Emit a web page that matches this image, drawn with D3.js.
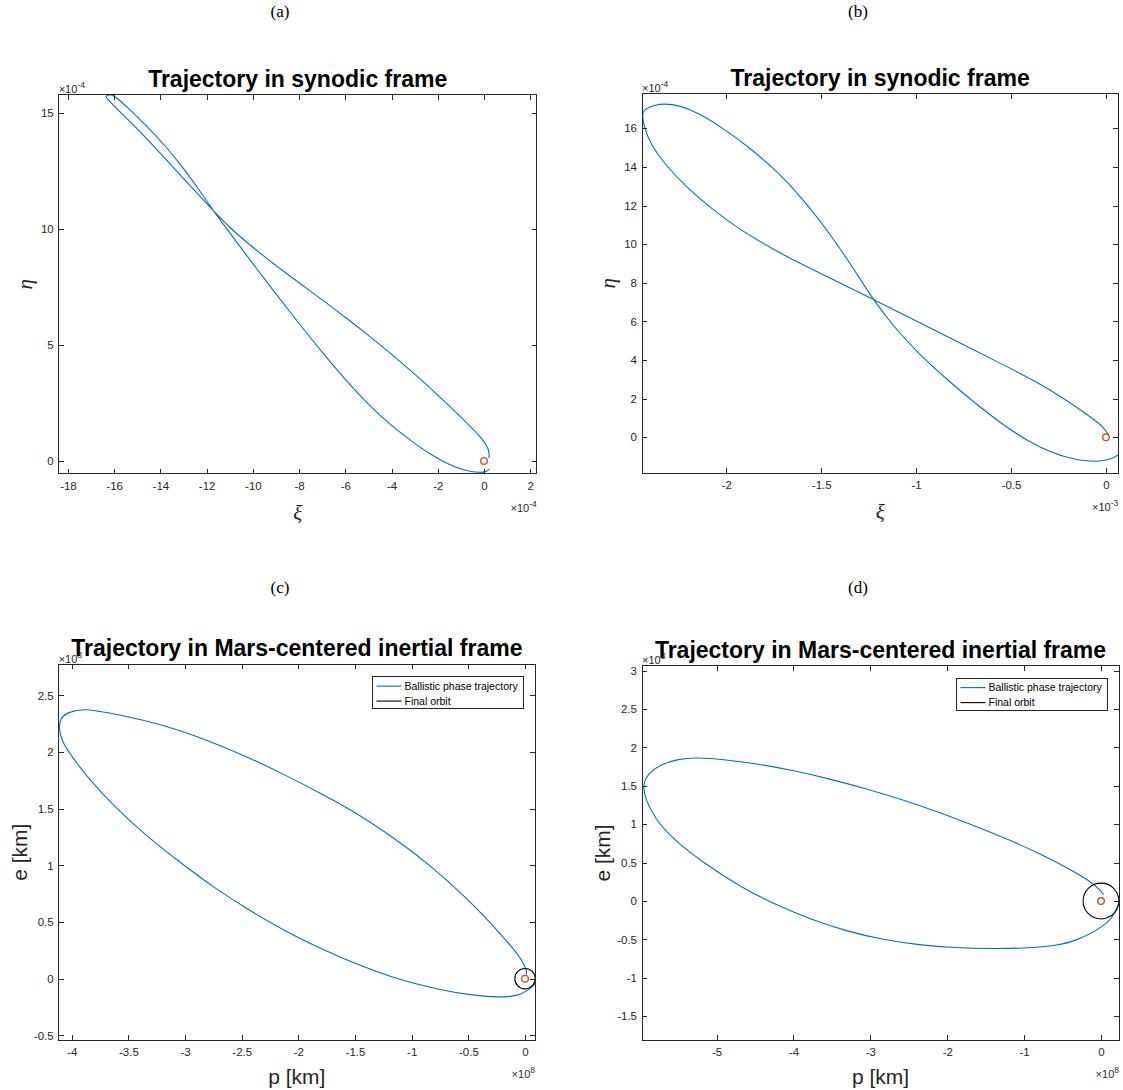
<!DOCTYPE html>
<html>
<head>
<meta charset="utf-8">
<script src="https://cdnjs.cloudflare.com/ajax/libs/d3/7.8.5/d3.min.js"></script>
<style>
  body { margin: 0; background: #ffffff; }
  svg { display: block; }
</style>
</head>
<body>
<svg id="fig" width="1123" height="1090"></svg>
<script>
// ---------------- DATA ----------------
const panelLabels = ["(a)", "(b)", "(c)", "(d)"];
const titleSynodic = "Trajectory in synodic frame";
const titleInertial = "Trajectory in Mars-centered inertial frame";
const legendLabels = ["Ballistic phase trajectory", "Final orbit"];

// (a) synodic frame, units 1e-4
const aXi  = [0.22, 0.23, 0.18, 0.0, -0.4, -1.0, -2.0, -3.0, -4.0, -5.0, -6.0, -7.0, -8.0, -9.0, -10.0, -11.0, -11.71, -12.59, -13.52, -14.45, -15.22, -15.84, -16.22, -16.38, -16.3, -16.15, -15.95, -15.4, -14.6, -13.8, -13.0, -12.3, -11.71, -10.9, -10.0, -9.0, -8.0, -7.0, -6.0, -5.0, -4.0, -3.0, -2.4, -1.8, -1.2, -0.6, -0.1, 0.1, 0.23];
const aEta = [0.13, 0.3, 0.55, 0.85, 1.3, 1.9, 2.85, 3.75, 4.6, 5.42, 6.2, 6.95, 7.68, 8.42, 9.2, 10.05, 10.79, 11.73, 12.74, 13.75, 14.54, 15.14, 15.52, 15.7, 15.78, 15.79, 15.72, 15.22, 14.45, 13.6, 12.62, 11.65, 10.79, 9.7, 8.5, 7.2, 5.92, 4.68, 3.5, 2.43, 1.5, 0.76, 0.34, -0.02, -0.28, -0.47, -0.5, -0.46, -0.36];
const aXTicks = [-18, -16, -14, -12, -10, -8, -6, -4, -2, 0, 2];
const aXTickLabels = ["-18", "-16", "-14", "-12", "-10", "-8", "-6", "-4", "-2", "0", "2"];
const aYTicks = [0, 5, 10, 15];
const aYTickLabels = ["0", "5", "10", "15"];

// (b) synodic frame, xi units 1e-3, eta units 1e-4
const bXi  = [0.015, -0.014, -0.084, -0.207, -0.383, -0.55, -0.75, -0.95, -1.1, -1.229, -1.362, -1.55, -1.74, -1.93, -2.08, -2.21, -2.325, -2.4, -2.434, -2.444, -2.43, -2.38, -2.325, -2.25, -2.155, -2.023, -1.89, -1.74, -1.59, -1.437, -1.324, -1.229, -1.116, -0.984, -0.833, -0.7, -0.558, -0.383, -0.207, -0.1, -0.03, 0.021, 0.065];
const bEta = [0.1, 0.55, 1.07, 1.93, 2.97, 3.8, 4.79, 5.78, 6.52, 7.16, 7.8, 8.7, 9.65, 10.75, 11.85, 12.95, 14.15, 15.2, 16.1, 16.75, 17.0, 17.2, 17.28, 17.19, 16.84, 16.05, 15.09, 13.86, 12.28, 10.3, 8.65, 7.16, 5.7, 4.3, 2.95, 1.85, 0.75, -0.40, -1.09, -1.24, -1.25, -1.15, -0.92];
const bXTicks = [-2, -1.5, -1, -0.5, 0];
const bXTickLabels = ["-2", "-1.5", "-1", "-0.5", "0"];
const bYTicks = [0, 2, 4, 6, 8, 10, 12, 14, 16];
const bYTickLabels = ["0", "2", "4", "6", "8", "10", "12", "14", "16"];

// (c) Mars-centered inertial frame, units 1e8 km
const cP = [0.013, 0.015, -0.044, -0.177, -0.35, -0.525, -0.84, -1.16, -1.47, -1.79, -2.11, -2.42, -2.74, -3.05, -3.37, -3.69, -3.89, -4.03, -4.1, -4.115, -4.09, -4.0, -3.85, -3.62, -3.37, -3.05, -2.74, -2.42, -2.11, -1.79, -1.47, -1.16, -0.75, -0.456, -0.22, -0.073, 0.029, 0.088];
const cE = [0.035, 0.08, 0.194, 0.35, 0.54, 0.72, 1.005, 1.245, 1.452, 1.63, 1.795, 1.945, 2.08, 2.195, 2.285, 2.35, 2.385, 2.355, 2.3, 2.22, 2.1, 1.96, 1.765, 1.515, 1.285, 1.03, 0.80, 0.595, 0.415, 0.26, 0.12, 0.005, -0.1, -0.148, -0.166, -0.153, -0.105, -0.045];
const cOrbitRadius = [0.09];
const cXTicks = [-4, -3.5, -3, -2.5, -2, -1.5, -1, -0.5, 0];
const cXTickLabels = ["-4", "-3.5", "-3", "-2.5", "-2", "-1.5", "-1", "-0.5", "0"];
const cYTicks = [-0.5, 0, 0.5, 1, 1.5, 2, 2.5];
const cYTickLabels = ["-0.5", "0", "0.5", "1", "1.5", "2", "2.5"];

// (d) Mars-centered inertial frame, units 1e8 km
const dP = [0.03, 0.01, -0.1, -0.36, -0.79, -1.2, -1.67, -2.13, -2.6, -3.06, -3.53, -4.0, -4.46, -4.93, -5.26, -5.5, -5.72, -5.88, -5.96, -5.93, -5.8, -5.56, -5.16, -4.7, -4.23, -3.76, -3.3, -2.83, -2.36, -1.9, -1.43, -1.0, -0.6, -0.316, 0.074, 0.18, 0.234];
const dE = [0.078, 0.12, 0.23, 0.39, 0.615, 0.8, 0.99, 1.165, 1.325, 1.465, 1.59, 1.70, 1.785, 1.845, 1.868, 1.85, 1.78, 1.67, 1.53, 1.33, 1.07, 0.8, 0.49, 0.19, -0.05, -0.245, -0.395, -0.505, -0.573, -0.608, -0.62, -0.615, -0.585, -0.52, -0.31, -0.16, -0.02];
const dOrbitRadius = [0.233];
const dXTicks = [-5, -4, -3, -2, -1, 0];
const dXTickLabels = ["-5", "-4", "-3", "-2", "-1", "0"];
const dYTicks = [-1.5, -1, -0.5, 0, 0.5, 1, 1.5, 2, 2.5, 3];
const dYTickLabels = ["-1.5", "-1", "-0.5", "0", "0.5", "1", "1.5", "2", "2.5", "3"];

// ---------------- STYLE / LAYOUT ----------------
const SANS = "'Liberation Sans', Arial, Helvetica, sans-serif";
const SERIF = "'Liberation Serif', 'Times New Roman', serif";
const AXC = "#262626";
const BLUE = "#0072BD";
const ORANGE = "#D95319";

const svg = d3.select("#fig");
svg.append("rect").attr("width", 1123).attr("height", 1090).attr("fill", "#ffffff");
const defs = svg.append("defs");

const panels = [
  { id: "a", label: panelLabels[0], labelX: 280, labelY: 17, title: titleSynodic,
    left: 58.7, right: 536.7, top: 94.7, bottom: 473.7,
    xDom: [-18.40, 2.28], yDom: [-0.55, 15.79],
    xs: aXi, ys: aEta, xTicks: aXTicks, xTickLabels: aXTickLabels, yTicks: aYTicks, yTickLabels: aYTickLabels,
    xExp: "-4", yExp: "-4", xLabel: "ξ", yLabel: "η", greek: true, orbit: null },
  { id: "b", label: panelLabels[1], labelX: 858, labelY: 17, title: titleSynodic,
    left: 642, right: 1118.3, top: 93.5, bottom: 473.3,
    xDom: [-2.444, 0.065], yDom: [-1.865, 17.8],
    xs: bXi, ys: bEta, xTicks: bXTicks, xTickLabels: bXTickLabels, yTicks: bYTicks, yTickLabels: bYTickLabels,
    xExp: "-3", yExp: "-4", xLabel: "ξ", yLabel: "η", greek: true, orbit: null },
  { id: "c", label: panelLabels[2], labelX: 280, labelY: 593, title: titleInertial,
    left: 58.7, right: 535, top: 664.1, bottom: 1040.3,
    xDom: [-4.115, 0.088], yDom: [-0.544, 2.777],
    xs: cP, ys: cE, xTicks: cXTicks, xTickLabels: cXTickLabels, yTicks: cYTicks, yTickLabels: cYTickLabels,
    xExp: "8", yExp: "8", xLabel: "p [km]", yLabel: "e [km]", greek: false, orbit: cOrbitRadius },
  { id: "d", label: panelLabels[3], labelX: 858, labelY: 593, title: titleInertial,
    left: 642, right: 1119, top: 665.6, bottom: 1040.3,
    xDom: [-5.97, 0.234], yDom: [-1.813, 3.065],
    xs: dP, ys: dE, xTicks: dXTicks, xTickLabels: dXTickLabels, yTicks: dYTicks, yTickLabels: dYTickLabels,
    xExp: "8", yExp: "8", xLabel: "p [km]", yLabel: "e [km]", greek: false, orbit: dOrbitRadius }
];

function expLabel(g, x, y, anchor, exp) {
  const t = g.append("text").attr("x", x).attr("y", y).attr("text-anchor", anchor)
    .attr("font-family", SANS).attr("font-size", 11).attr("fill", AXC);
  t.append("tspan").text("×10");
  t.append("tspan").attr("font-size", 8.5).attr("dy", -5).text(exp);
}

function styleAxis(sel, fs) {
  sel.select(".domain").remove();
  sel.attr("font-family", SANS).attr("font-size", fs);
  sel.selectAll(".tick line").attr("stroke", AXC).attr("stroke-width", 1).attr("shape-rendering", "crispEdges");
  sel.selectAll(".tick text").attr("fill", AXC);
}

panels.forEach(p => {
  const g = svg.append("g");
  const x = d3.scaleLinear().domain(p.xDom).range([p.left, p.right]);
  const y = d3.scaleLinear().domain(p.yDom).range([p.bottom, p.top]);
  const w = p.right - p.left, h = p.bottom - p.top;

  // subfigure label
  svg.append("text").attr("x", p.labelX).attr("y", p.labelY).attr("text-anchor", "middle")
    .attr("font-family", SERIF).attr("font-size", 17).attr("fill", "#000").text(p.label);

  defs.append("clipPath").attr("id", "clip" + p.id)
    .append("rect").attr("x", p.left).attr("y", p.top).attr("width", w).attr("height", h);

  const plot = g.append("g").attr("clip-path", `url(#clip${p.id})`);
  const line = d3.line().x(d => x(d[0])).y(d => y(d[1])).curve(d3.curveBasis);
  plot.append("path").datum(d3.zip(p.xs, p.ys)).attr("d", line)
    .attr("fill", "none").attr("stroke", BLUE).attr("stroke-width", 1.1).attr("stroke-linejoin", "round");

  if (p.orbit) {
    plot.append("ellipse").attr("cx", x(0)).attr("cy", y(0))
      .attr("rx", x(p.orbit[0]) - x(0)).attr("ry", y(0) - y(p.orbit[0]))
      .attr("fill", "none").attr("stroke", "#000").attr("stroke-width", 1.1);
  }
  plot.append("circle").attr("cx", x(0)).attr("cy", y(0)).attr("r", 3.3)
    .attr("fill", "none").attr("stroke", ORANGE).attr("stroke-width", 1.4);

  // axes (ticks inward on all four sides)
  const fs = 11.5;
  const bx = g.append("g").attr("transform", `translate(0,${p.bottom})`)
    .call(d3.axisBottom(x).tickValues(p.xTicks).tickSize(-5).tickPadding(8).tickFormat((d, i) => p.xTickLabels[i]));
  styleAxis(bx, fs);
  const tx = g.append("g").attr("transform", `translate(0,${p.top})`)
    .call(d3.axisTop(x).tickValues(p.xTicks).tickSize(-5).tickFormat(() => ""));
  styleAxis(tx, fs);
  const ly = g.append("g").attr("transform", `translate(${p.left},0)`)
    .call(d3.axisLeft(y).tickValues(p.yTicks).tickSize(-5).tickPadding(5).tickFormat((d, i) => p.yTickLabels[i]));
  styleAxis(ly, fs);
  const ry = g.append("g").attr("transform", `translate(${p.right},0)`)
    .call(d3.axisRight(y).tickValues(p.yTicks).tickSize(-5).tickFormat(() => ""));
  styleAxis(ry, fs);

  g.append("rect").attr("x", p.left).attr("y", p.top).attr("width", w).attr("height", h)
    .attr("fill", "none").attr("stroke", AXC).attr("stroke-width", 1).attr("shape-rendering", "crispEdges");

  // exponent labels
  expLabel(g, p.left, p.top - 1.5, "start", p.yExp);
  expLabel(g, p.right, p.bottom + 38, "end", p.xExp);

  // title
  g.append("text").attr("x", (p.left + p.right) / 2).attr("y", p.top - 8).attr("text-anchor", "middle")
    .attr("font-family", SANS).attr("font-weight", "bold").attr("font-size", 23).attr("fill", "#000")
    .text(p.title);

  // axis labels
  const cx = (p.left + p.right) / 2, cy = (p.top + p.bottom) / 2;
  if (p.greek) {
    g.append("text").attr("x", cx).attr("y", p.bottom + 46).attr("text-anchor", "middle")
      .attr("font-family", SERIF).attr("font-style", "italic").attr("font-size", 21).attr("fill", AXC).text(p.xLabel);
    g.append("text").attr("transform", `translate(${p.left - 27},${cy}) rotate(-90)`).attr("text-anchor", "middle")
      .attr("font-family", SERIF).attr("font-style", "italic").attr("font-size", 21).attr("fill", AXC).text(p.yLabel);
  } else {
    g.append("text").attr("x", cx).attr("y", p.bottom + 44).attr("text-anchor", "middle")
      .attr("font-family", SANS).attr("font-size", 21).attr("fill", AXC).text(p.xLabel);
    g.append("text").attr("transform", `translate(${p.left - 32},${cy}) rotate(-90)`).attr("text-anchor", "middle")
      .attr("font-family", SANS).attr("font-size", 21).attr("fill", AXC).text(p.yLabel);

    // legend
    const lw = 151, lh = 32;
    const lx = p.right - 11.5 - lw, lyy = p.top + 12.5;
    const lg = g.append("g");
    lg.append("rect").attr("x", lx).attr("y", lyy).attr("width", lw).attr("height", lh)
      .attr("fill", "#fff").attr("stroke", AXC).attr("stroke-width", 1).attr("shape-rendering", "crispEdges");
    const colors = [BLUE, "#000"];
    legendLabels.forEach((lab, i) => {
      const yy = lyy + 9.5 + i * 15;
      lg.append("line").attr("x1", lx + 4).attr("x2", lx + 29).attr("y1", yy).attr("y2", yy)
        .attr("stroke", colors[i]).attr("stroke-width", 1.1);
      lg.append("text").attr("x", lx + 32).attr("y", yy + 3.8)
        .attr("font-family", SANS).attr("font-size", 10.5).attr("fill", "#000").text(lab);
    });
  }
});
</script>
</body>
</html>
